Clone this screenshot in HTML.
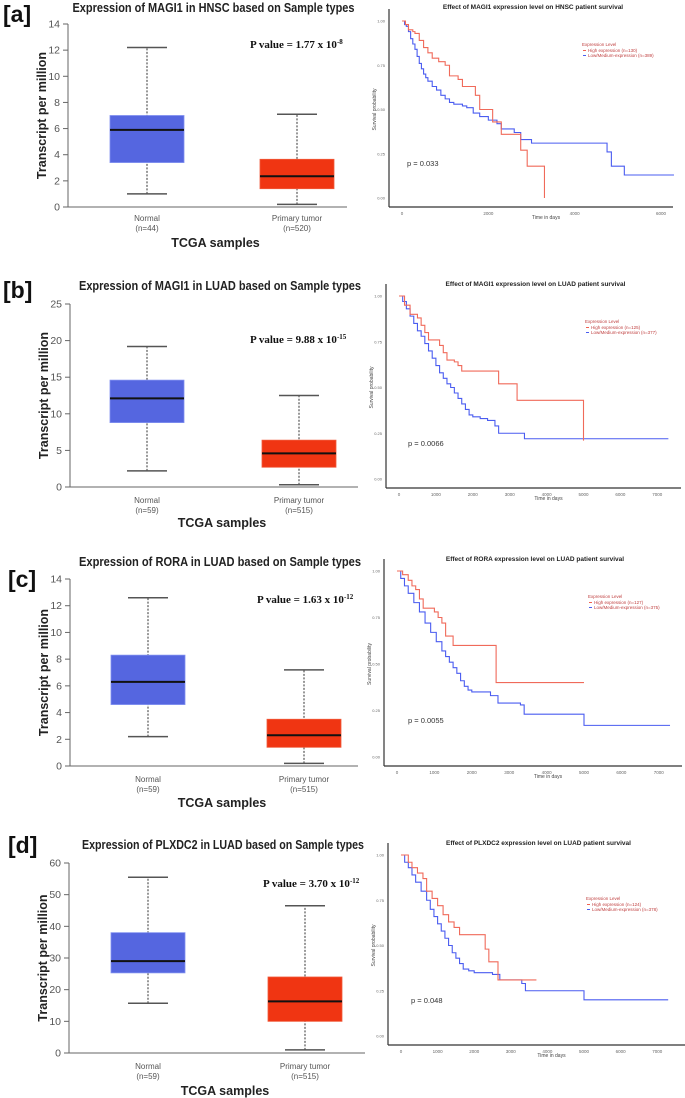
<!DOCTYPE html>
<html><head><meta charset="utf-8"><style>
html,body{margin:0;padding:0;background:#fff;}
svg{display:block;}
text{font-family:"Liberation Sans",sans-serif;}
text.serif, text.serif tspan{font-family:"Liberation Serif",serif;}
</style></head><body>
<svg id="fig" width="685" height="1098" xmlns="http://www.w3.org/2000/svg"></svg>
<script>
// ---------- data: box plots ----------
const boxCategories = ["Normal", "Primary tumor"];
const boxCounts = [["(n=44)","(n=520)"],["(n=59)","(n=515)"],["(n=59)","(n=515)"],["(n=59)","(n=515)"]];
const boxTitles = ["Expression of MAGI1 in HNSC based on Sample types","Expression of MAGI1 in LUAD based on Sample types","Expression of RORA in LUAD based on Sample types","Expression of PLXDC2 in LUAD based on Sample types"];
const pValueMantissa = ["1.77","9.88","1.63","3.70"];
const pValueExponent = ["-8","-15","-12","-12"];
// [whiskerLow, q1, median, q3, whiskerHigh]
const boxNormal = [[1.0,3.4,5.9,7.0,12.2],[2.2,8.8,12.1,14.6,19.2],[2.2,4.6,6.3,8.3,12.6],[15.7,25.3,29,38,55.5]];
const boxTumor = [[0.2,1.4,2.35,3.65,7.1],[0.3,2.7,4.6,6.4,12.5],[0.2,1.4,2.3,3.5,7.2],[1.0,10,16.3,24,46.5]];
const boxYMax = [14,25,14,60];
const boxYStep = [2,5,2,10];
// ---------- data: survival ----------
const kmTitles = ["Effect of MAGI1 expression level on HNSC patient survival","Effect of MAGI1 expression level on LUAD patient survival","Effect of RORA expression level on LUAD patient survival","Effect of PLXDC2 expression level on LUAD patient survival"];
const kmPValues = ["p = 0.033","p = 0.0066","p = 0.0055","p = 0.048"];
const kmHighN = ["130","125","127","124"];
const kmLowN = ["389","377","375","378"];
const kmXTicksA = [0,2000,4000,6000];
const kmXTicksB = [0,1000,2000,3000,4000,5000,6000,7000];
const kmYTicks = [0,0.25,0.5,0.75,1.0];
const kmHighA = [[0,1],[80,.98],[150,.95],[250,.94],[300,.93],[400,.89],[500,.85],[600,.82],[700,.79],[850,.77],[1000,.75],[1100,.69],[1300,.67],[1400,.63],[1600,.63],[1700,.58],[1800,.5],[2000,.5],[2100,.43],[2300,.36],[2650,.36],[2750,.27],[2900,.18],[3300,.18],[3300,0]];
const kmLowA = [[0,1],[60,.98],[100,.97],[150,.94],[200,.9],[250,.87],[300,.84],[350,.8],[400,.76],[450,.73],[500,.7],[550,.68],[600,.66],[700,.63],[800,.61],[900,.58],[1000,.56],[1100,.54],[1200,.53],[1400,.52],[1500,.51],[1650,.48],[1800,.46],[2000,.44],[2200,.42],[2300,.39],[2600,.37],[2750,.33],[3000,.31],[4700,.31],[4750,.26],[4850,.18],[5150,.18],[5150,.13],[6300,.13]];
const kmHighB = [[0,1],[150,.95],[300,.9],[500,.88],[600,.84],[700,.8],[800,.76],[1000,.76],[1100,.73],[1200,.69],[1300,.65],[1500,.64],[1600,.62],[1700,.59],[2700,.59],[2700,.52],[3200,.52],[3200,.43],[5000,.43],[5000,.21]];
const kmLowB = [[0,1],[100,.97],[200,.93],[300,.89],[400,.85],[500,.81],[600,.78],[700,.74],[800,.7],[900,.66],[1000,.62],[1100,.58],[1200,.55],[1300,.52],[1400,.5],[1500,.47],[1600,.44],[1700,.41],[1800,.38],[1900,.35],[2000,.34],[2200,.33],[2400,.32],[2600,.29],[2700,.25],[3400,.25],[3400,.22],[7300,.22]];
const kmHighC = [[0,1],[150,.98],[300,.95],[400,.92],[500,.9],[600,.85],[700,.8],[1000,.78],[1100,.75],[1200,.72],[1300,.65],[1500,.6],[2650,.6],[2650,.4],[5000,.4]];
const kmLowC = [[0,1],[100,.96],[200,.92],[300,.88],[450,.83],[600,.78],[750,.72],[900,.67],[1050,.62],[1200,.57],[1300,.54],[1400,.51],[1500,.48],[1600,.45],[1700,.41],[1800,.38],[1900,.36],[2000,.35],[2500,.33],[2700,.29],[3300,.28],[3400,.23],[5000,.23],[5000,.17],[7300,.17]];
const kmHighD = [[0,1],[100,1],[200,.96],[300,.93],[450,.9],[600,.87],[700,.8],[850,.76],[1000,.72],[1150,.67],[1300,.63],[1450,.6],[1600,.56],[2200,.56],[2300,.48],[2400,.41],[2600,.41],[2650,.31],[3700,.31]];
const kmLowD = [[0,1],[100,.96],[200,.93],[300,.89],[400,.85],[550,.8],[700,.75],[800,.7],[900,.66],[1000,.62],[1100,.58],[1200,.54],[1300,.5],[1400,.46],[1500,.43],[1600,.4],[1700,.37],[1850,.36],[2000,.35],[2500,.34],[2700,.31],[3300,.29],[3400,.25],[5000,.25],[5000,.2],[7300,.2]];

// ---------- layout (not data) ----------
const panelLetters = ["[a]","[b]","[c]","[d]"];
const boxLayout = [
 {ax:68,right:347,y0:207,yTop:24,title:12,cat:221,tcga:247,px:250,py:48,lx:3,ly:22},
 {ax:70,right:358,y0:487,yTop:304,title:290,cat:503,tcga:527,px:250,py:343,lx:3,ly:298},
 {ax:70,right:358,y0:766,yTop:579,title:566,cat:782,tcga:807,px:257,py:603,lx:8,ly:587},
 {ax:69,right:365,y0:1053,yTop:863,title:849,cat:1069,tcga:1095,px:263,py:887,lx:8,ly:853}
];
const boxCenters = [[147,297],[147,299],[148,304],[148,305]];
const boxHalf = 37;
const kmLayout = [
 {left:389,bottom:207,y1:21,y0:198,x0:402,k:0.04317,end:673,title:9,lgx:582,lgy:46,ptx:407,pty:166,ticks:kmXTicksA},
 {left:386,bottom:488,y1:296,y0:479,x0:399,k:0.0369,end:681,title:286,lgx:585,lgy:323,ptx:408,pty:446,ticks:kmXTicksB},
 {left:384,bottom:766,y1:571,y0:757,x0:397,k:0.0374,end:682,title:561,lgx:588,lgy:598,ptx:408,pty:723,ticks:kmXTicksB},
 {left:388,bottom:1045,y1:855,y0:1036,x0:401,k:0.0366,end:685,title:845,lgx:586,lgy:900,ptx:411,pty:1003,ticks:kmXTicksB}
];
const kmHigh = [kmHighA,kmHighB,kmHighC,kmHighD];
const kmLow = [kmLowA,kmLowB,kmLowC,kmLowD];

const NS="http://www.w3.org/2000/svg";
const svg=document.getElementById('fig');
function mk(tag,attrs,parent,txt){const e=document.createElementNS(NS,tag);for(const k in attrs)e.setAttribute(k,attrs[k]);if(txt!==undefined)e.textContent=txt;(parent||svg).appendChild(e);return e;}

for(let i=0;i<4;i++){
  const L=boxLayout[i];
  const g=mk('g',{});
  
  
  const yS=v=>L.y0-(v/boxYMax[i])*(L.y0-L.yTop);
  const lt=mk('text',{x:L.lx,y:L.ly,'font-size':23,'font-weight':'bold',fill:'#111'},g,panelLetters[i]);
  
  
  const tt=mk('text',{x:(L.ax+L.right)/2+6,y:L.title,'font-size':12.5,'font-weight':'bold','text-anchor':'middle',fill:'#222',textLength:282,lengthAdjust:'spacingAndGlyphs'},g,boxTitles[i]);
  
  
  mk('line',{x1:L.ax,y1:L.y0,x2:L.right,y2:L.y0,stroke:'#666','stroke-width':1},g);
  mk('line',{x1:L.ax,y1:L.y0,x2:L.ax,y2:L.yTop,stroke:'#666','stroke-width':1},g);
  for(let v=0;v<=boxYMax[i];v+=boxYStep[i]){
    const y=yS(v);
    mk('line',{x1:L.ax-5,y1:y,x2:L.ax,y2:y,stroke:'#666'},g);
    const t=mk('text',{x:L.ax-8,y:y+3.5,'font-size':10.5,'text-anchor':'end',fill:'#555'},g,String(v));
    
    
  }
  const yt=mk('text',{transform:`translate(${L.ax-22},${(L.y0+L.yTop)/2}) rotate(-90)`,'font-size':12.5,'font-weight':'bold','text-anchor':'middle',fill:'#222'},g,'Transcript per million');
  
  
  const sets=[boxNormal[i],boxTumor[i]];
  const cols=['#5566e0','#f03512'];
  for(let j=0;j<2;j++){
    const c=boxCenters[i][j],d=sets[j];
    mk('line',{x1:c,y1:yS(d[0]),x2:c,y2:yS(d[4]),stroke:'#333','stroke-dasharray':'2,1.5','stroke-width':1},g);
    mk('line',{x1:c-20,y1:yS(d[0]),x2:c+20,y2:yS(d[0]),stroke:'#555','stroke-width':1.5},g);
    mk('line',{x1:c-20,y1:yS(d[4]),x2:c+20,y2:yS(d[4]),stroke:'#555','stroke-width':1.5},g);
    const b=mk('rect',{x:c-boxHalf,y:yS(d[3]),width:boxHalf*2,height:yS(d[1])-yS(d[3]),fill:cols[j],stroke:j?'#f05a3a':'#8090f0','stroke-width':0.8},g);
    
    
    mk('line',{x1:c-boxHalf,y1:yS(d[2]),x2:c+boxHalf,y2:yS(d[2]),stroke:'#111','stroke-width':2},g);
    const cl=mk('text',{x:c,y:L.cat,'font-size':8,'text-anchor':'middle',fill:'#555'},g,boxCategories[j]);
    
    
    mk('text',{x:c,y:L.cat+10,'font-size':8,'text-anchor':'middle',fill:'#555'},g,boxCounts[i][j]);
  }
  const xt=mk('text',{x:(L.ax+L.right)/2+8,y:L.tcga,'font-size':12.5,'font-weight':'bold','text-anchor':'middle',fill:'#222'},g,'TCGA samples');
  
  
  const pv=mk('text',{x:L.px,y:L.py,'font-size':11,'font-weight':'bold',fill:'#111','class':'serif'},g);
  
  
  mk('tspan',{},pv,'P value = '+pValueMantissa[i]+' x 10');
  mk('tspan',{dy:-4,'font-size':7},pv,pValueExponent[i]);
}

for(let i=0;i<4;i++){
  const L=kmLayout[i];
  const g=mk('g',{});
  
  
  const xS=t=>L.x0+t*L.k, yS=s=>L.y0-s*(L.y0-L.y1);
  const tt=mk('text',{x:(L.left+L.end)/2+2,y:L.title,'font-size':6.5,'font-weight':'bold','text-anchor':'middle',fill:'#222'},g,kmTitles[i]);
  
  
  mk('line',{x1:L.left,y1:L.bottom,x2:L.end,y2:L.bottom,stroke:'#333','stroke-width':1.2},g);
  mk('line',{x1:L.left,y1:L.bottom,x2:L.left,y2:L.y1-12,stroke:'#333','stroke-width':1.2},g);
  kmYTicks.forEach(v=>{const t=mk('text',{x:L.left-4,y:yS(v)+1.5,'font-size':4,'text-anchor':'end',fill:'#666'},g,v.toFixed(2));
    
    });
  L.ticks.forEach(v=>{const t=mk('text',{x:xS(v),y:L.bottom+8,'font-size':4.5,'text-anchor':'middle',fill:'#666'},g,String(v));
    
    });
  mk('text',{x:(L.left+L.end)/2+15,y:L.bottom+12,'font-size':5,'text-anchor':'middle',fill:'#444'},g,'Time in days');
  mk('text',{transform:`translate(${L.left-13},${(L.y0+L.y1)/2}) rotate(-90)`,'font-size':5,'text-anchor':'middle',fill:'#444'},g,'Survival probability');
  const curve=(pts,col,name)=>{
    let d='M'+xS(pts[0][0])+','+yS(pts[0][1]);
    for(let k=1;k<pts.length;k++){d+=' H'+xS(pts[k][0])+' V'+yS(pts[k][1]);}
    const p=mk('path',{d:d,fill:'none',stroke:col,'stroke-width':1.1},g);
    
    
  };
  curve(kmLow[i],'#4a5cf0','low-expression-curve');
  curve(kmHigh[i],'#f06a5a','high-expression-curve');
  const lg=mk('g',{},g);
  
  
  mk('text',{x:L.lgx,y:L.lgy,'font-size':4.5,fill:'#c04040'},lg,'Expression Level');
  mk('line',{x1:L.lgx+1,y1:L.lgy+4.5,x2:L.lgx+4,y2:L.lgy+4.5,stroke:'#f06050'},lg);
  mk('text',{x:L.lgx+6,y:L.lgy+6,'font-size':4.5,fill:'#c04040'},lg,'High expression (n='+kmHighN[i]+')');
  mk('line',{x1:L.lgx+1,y1:L.lgy+9.5,x2:L.lgx+4,y2:L.lgy+9.5,stroke:'#4a5cf0'},lg);
  mk('text',{x:L.lgx+6,y:L.lgy+11,'font-size':4.5,fill:'#c04040'},lg,'Low/Medium-expression (n='+kmLowN[i]+')');
  const pt=mk('text',{x:L.ptx,y:L.pty,'font-size':7.5,fill:'#333'},g,kmPValues[i]);
  
  
}
</script>
</body></html>
